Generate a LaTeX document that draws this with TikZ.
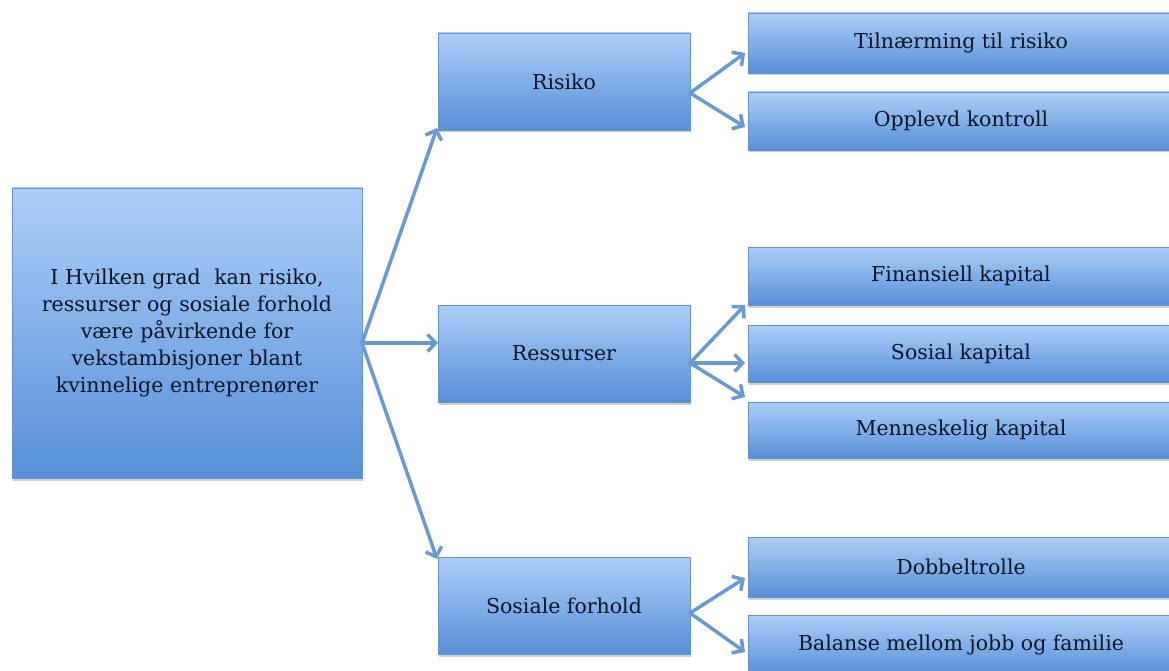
\documentclass[tikz,border=0pt]{standalone}
\usepackage{fontspec}
\setmainfont{DejaVu Serif}
\usetikzlibrary{arrows.meta,shadows,calc}
\definecolor{boxtop}{HTML}{ADCEF8}
\definecolor{boxbot}{HTML}{5690D7}
\definecolor{boxline}{HTML}{6591CC}
\definecolor{arrcol}{HTML}{6A99D2}
\definecolor{txtcol}{HTML}{0C1428}
\tikzset{
  box/.style={draw=boxline, line width=0.8pt, top color=boxtop, bottom color=boxbot,
    anchor=north west, inner sep=0pt, outer sep=0pt, text=txtcol, align=center,
    drop shadow={shadow xshift=1pt, shadow yshift=-2.5pt, opacity=0.3, fill=black!60}},
  lbl/.style={font=\fontsize{20.5}{27}\selectfont},
  arr/.style={draw=arrcol, line width=3.5pt, -{Straight Barb[length=8pt,width=17pt]}, line cap=round}
}
\begin{document}
\begin{tikzpicture}[x=1pt,y=-1pt]
\useasboundingbox (0,0) rectangle (1169,671);
% main
\node[box,lbl,minimum width=350pt,minimum height=290pt,text width=345pt] (main) at (12,188)
  {I Hvilken grad\ \ kan risiko,\\ ressurser og sosiale forhold\\ være påvirkende for\\ vekstambisjoner blant\\ kvinnelige entreprenører};
% middle
\node[box,lbl,minimum width=252pt,minimum height=97pt] (risk) at (438,33) {Risiko};
\node[box,lbl,minimum width=252pt,minimum height=97pt] (res) at (438,305) {Ressurser};
\node[box,lbl,minimum width=252pt,minimum height=97pt] (sos) at (438,557) {Sosiale forhold};
% right
\node[box,lbl,minimum width=426pt,minimum height=60pt] (tiln) at (748,13) {Tilnærming til risiko};
\node[box,lbl,minimum width=426pt,minimum height=58pt] (oppl) at (748,92) {Opplevd kontroll};
\node[box,lbl,minimum width=426pt,minimum height=58pt] (fin) at (748,247) {Finansiell kapital};
\node[box,lbl,minimum width=426pt,minimum height=57pt] (sk) at (748,325) {Sosial kapital};
\node[box,lbl,minimum width=426pt,minimum height=56pt] (mk) at (748,402) {Menneskelig kapital};
\node[box,lbl,minimum width=426pt,minimum height=60pt] (dob) at (748,537) {Dobbeltrolle};
\node[box,lbl,minimum width=426pt,minimum height=60pt] (bal) at (748,615) {Balanse mellom jobb og familie};
% forks
\coordinate (f0) at ([yshift=-10pt]main.east);
\coordinate (f1) at ([yshift=-11.5pt]risk.east);
\coordinate (f2) at ([yshift=-9.5pt]res.east);
\coordinate (f3) at ([yshift=-7.5pt]sos.east);
% arrows
\draw[arr] (f0) -- ([xshift=-1pt,yshift=2pt]risk.south west);
\draw[arr] (f0) -- ([yshift=10.5pt]res.west);
\draw[arr] (f0) -- ([xshift=-1pt,yshift=-2pt]sos.north west);
\draw[arr] (f1) -- ([xshift=-3pt,yshift=-10pt]tiln.west);
\draw[arr] (f1) -- ([xshift=-3pt,yshift=-6pt]oppl.west);
\draw[arr] (f2) -- ([xshift=-3pt]fin.south west);
\draw[arr] (f2) -- ([xshift=-3pt,yshift=-9.5pt]sk.west);
\draw[arr] (f2) -- ([xshift=-3pt,yshift=5pt]mk.north west);
\draw[arr] (f3) -- ([xshift=-3pt,yshift=-11pt]dob.west);
\draw[arr] (f3) -- ([xshift=-3pt,yshift=-7pt]bal.west);
\end{tikzpicture}
\end{document}
